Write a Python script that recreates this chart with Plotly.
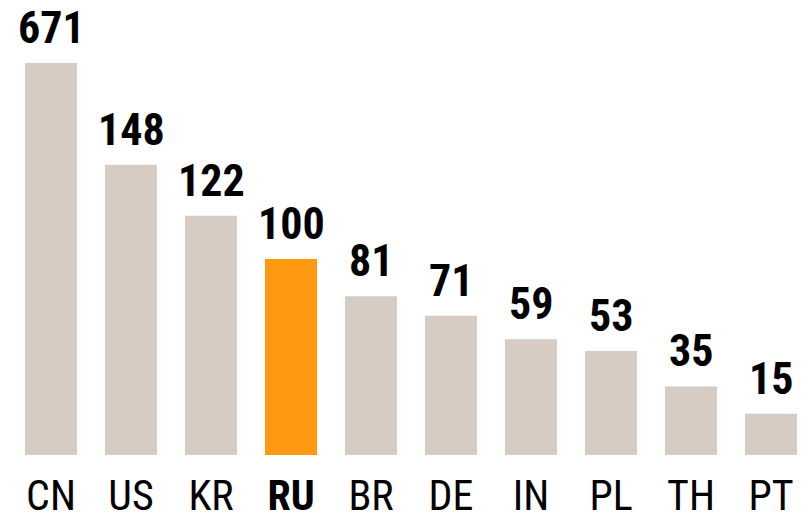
import plotly.graph_objects as go

countries = ["CN", "US", "KR", "RU", "BR", "DE", "IN", "PL", "TH", "PT"]
label_values = [671, 148, 122, 100, 81, 71, 59, 53, 35, 15]
# displayed bar heights (CN bar is truncated in the original, PT bar has minimum height)
bar_heights = [200, 148, 122, 100, 81, 71, 59, 53, 35, 21]
highlight = "RU"

GREY = "#D6CCC4"
ORANGE = "#FF9912"
FONT = "Liberation Sans Narrow, Arial Narrow, Roboto Condensed, sans-serif"

colors = [ORANGE if c == highlight else GREY for c in countries]
xs = list(range(len(countries)))

fig = go.Figure(go.Bar(
    x=xs, y=bar_heights, width=0.65,
    marker=dict(color=colors, line=dict(width=0)),
    hoverinfo="skip",
))

for x, h, v in zip(xs, bar_heights, label_values):
    fig.add_annotation(x=x, y=h, text=f"<b>{v}</b>", showarrow=False,
                       yanchor="bottom", yshift=7,
                       font=dict(family=FONT, size=44, color="#000000"))

ticktext = [f"<b>{c}</b>" if c == highlight else c for c in countries]

fig.update_layout(
    width=803, height=519,
    margin=dict(l=0, r=0, t=0, b=64),
    paper_bgcolor="white", plot_bgcolor="white",
    showlegend=False,
    xaxis=dict(range=[-0.6375, 9.4], tickvals=xs, ticktext=ticktext,
               showgrid=False, zeroline=False, showline=False, ticks="",
               ticklabelstandoff=12, automargin=False,
               tickfont=dict(family=FONT, size=42, color="#000000")),
    yaxis=dict(range=[0, 232.1], visible=False, automargin=False),
)

fig.write_html("out.html", config={"displayModeBar": False},
               post_script="document.body.style.margin='0';")
